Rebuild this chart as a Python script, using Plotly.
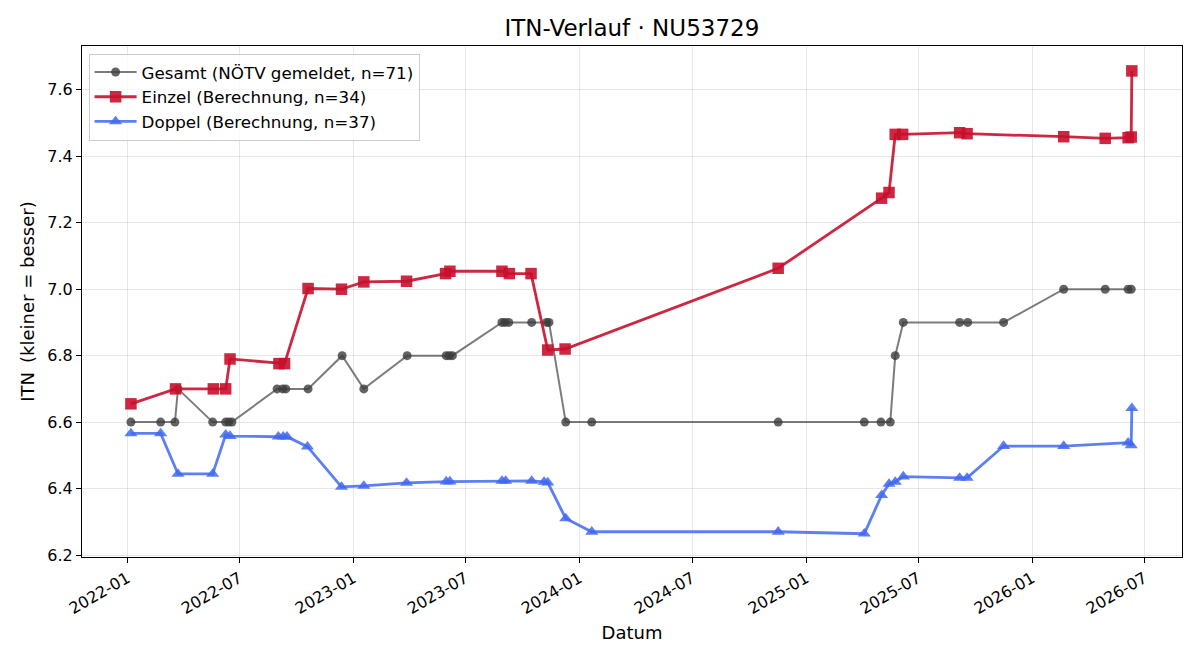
import plotly.graph_objects as go

# ---- Data ----
gesamt_dates = [
    "2022-01-07", "2022-02-24", "2022-03-19", "2022-03-24", "2022-05-19",
    "2022-06-09", "2022-06-14", "2022-06-19", "2022-08-31", "2022-09-09",
    "2022-09-14", "2022-10-20", "2022-12-14", "2023-01-18", "2023-03-29",
    "2023-05-31", "2023-06-05", "2023-06-10", "2023-08-29", "2023-09-03",
    "2023-09-09", "2023-10-16", "2023-11-09", "2023-11-13", "2023-12-10",
    "2024-01-21", "2024-11-17", "2025-04-05", "2025-05-02", "2025-05-17",
    "2025-05-25", "2025-06-07", "2025-09-06", "2025-09-19", "2025-11-16",
    "2026-02-21", "2026-04-29", "2026-06-05", "2026-06-10",
]
gesamt_vals = [
    6.6, 6.6, 6.6, 6.7, 6.6,
    6.6, 6.6, 6.6, 6.7, 6.7,
    6.7, 6.7, 6.8, 6.7, 6.8,
    6.8, 6.8, 6.8, 6.9, 6.9,
    6.9, 6.9, 6.9, 6.9, 6.6,
    6.6, 6.6, 6.6, 6.6, 6.6,
    6.8, 6.9, 6.9, 6.9, 6.9,
    7.0, 7.0, 7.0, 7.0,
]

einzel_dates = [
    "2022-01-07", "2022-03-20", "2022-05-20", "2022-06-09", "2022-06-16",
    "2022-09-03", "2022-09-12", "2022-10-20", "2022-12-13", "2023-01-18",
    "2023-03-28", "2023-05-30", "2023-06-06", "2023-08-29", "2023-09-10",
    "2023-10-15", "2023-11-11", "2023-12-09", "2024-11-17", "2025-05-03",
    "2025-05-15", "2025-05-25", "2025-06-06", "2025-09-06", "2025-09-18",
    "2026-02-21", "2026-04-29", "2026-06-05", "2026-06-10", "2026-06-11",
]
einzel_vals = [
    6.655, 6.700, 6.700, 6.700, 6.790,
    6.776, 6.776, 7.002, 7.000, 7.022,
    7.024, 7.047, 7.054, 7.054, 7.047,
    7.047, 6.817, 6.820, 7.063, 7.274,
    7.291, 7.466, 7.466, 7.471, 7.468,
    7.459, 7.454, 7.456, 7.458, 7.657,
]

doppel_dates = [
    "2022-01-07", "2022-02-24", "2022-03-24", "2022-05-19", "2022-06-09",
    "2022-06-16", "2022-09-02", "2022-09-10", "2022-09-16", "2022-10-19",
    "2022-12-13", "2023-01-18", "2023-03-28", "2023-05-31", "2023-06-06",
    "2023-08-29", "2023-09-04", "2023-10-16", "2023-11-05", "2023-11-11",
    "2023-12-10", "2024-01-21", "2024-11-17", "2025-04-05", "2025-05-03",
    "2025-05-15", "2025-05-25", "2025-06-07", "2025-09-06", "2025-09-18",
    "2025-11-16", "2026-02-21", "2026-06-05", "2026-06-10", "2026-06-11",
]
doppel_vals = [
    6.566, 6.566, 6.444, 6.444, 6.562,
    6.558, 6.556, 6.556, 6.556, 6.526,
    6.405, 6.408, 6.417, 6.421, 6.421,
    6.423, 6.423, 6.423, 6.420, 6.418,
    6.310, 6.270, 6.270, 6.264, 6.380,
    6.414, 6.420, 6.436, 6.432, 6.432,
    6.528, 6.528, 6.538, 6.530, 6.642,
]

x_ticks = ["2022-01-01", "2022-07-01", "2023-01-01", "2023-07-01", "2024-01-01",
           "2024-07-01", "2025-01-01", "2025-07-01", "2026-01-01", "2026-07-01"]
x_tick_labels = ["2022-01", "2022-07", "2023-01", "2023-07", "2024-01",
                 "2024-07", "2025-01", "2025-07", "2026-01", "2026-07"]
y_ticks = [6.2, 6.4, 6.6, 6.8, 7.0, 7.2, 7.4, 7.6]

FONT = "DejaVu Sans"

fig = go.Figure()
fig.add_trace(go.Scatter(
    x=gesamt_dates, y=gesamt_vals, mode="lines+markers",
    name="Gesamt (NÖTV gemeldet, n=71)",
    line=dict(color="rgba(68,68,68,0.7)", width=2),
    marker=dict(symbol="circle", size=9, color="#3c3c3c", opacity=0.8,
                line=dict(width=0)),
))
fig.add_trace(go.Scatter(
    x=einzel_dates, y=einzel_vals, mode="lines+markers",
    name="Einzel (Berechnung, n=34)",
    line=dict(color="rgba(200,16,46,0.9)", width=2.8),
    marker=dict(symbol="square", size=11.5, color="#c8102e", opacity=0.9,
                line=dict(width=0)),
))
fig.add_trace(go.Scatter(
    x=doppel_dates, y=doppel_vals, mode="lines+markers",
    name="Doppel (Berechnung, n=37)",
    line=dict(color="rgba(65,105,240,0.85)", width=2.8),
    marker=dict(symbol="triangle-up", size=11.5, color="#4169f0", opacity=0.85,
                line=dict(width=0)),
))

fig.update_layout(
    width=1200, height=660,
    margin=dict(l=82, r=18, t=46, b=103),
    paper_bgcolor="white", plot_bgcolor="white",
    font=dict(family=FONT, size=16, color="black"),
    title=dict(text="ITN-Verlauf · NU53729", x=0.5266, xanchor="center",
               y=0.957, yanchor="middle", font=dict(family=FONT, size=23)),
    showlegend=True,
    legend=dict(x=0.006, y=0.985, xanchor="left", yanchor="top",
                bgcolor="rgba(255,255,255,0.8)", bordercolor="#cccccc",
                borderwidth=1, font=dict(family=FONT, size=16.7),
                tracegroupgap=0, itemwidth=42),
    xaxis=dict(
        type="date", range=["2021-10-20", "2026-08-31"],
        tickvals=x_ticks, ticktext=x_tick_labels, tickangle=-30,
        ticks="outside", ticklen=5, tickcolor="black",
        showline=True, linecolor="black", linewidth=1, mirror=True,
        showgrid=True, gridcolor="rgba(176,176,176,0.3)", gridwidth=1,
        zeroline=False,
        title=dict(text="Datum", font=dict(family=FONT, size=18), standoff=9),
        tickfont=dict(family=FONT, size=16),
    ),
    yaxis=dict(
        range=[6.194, 7.732], tickvals=y_ticks, tickformat=".1f",
        ticks="outside", ticklen=5, tickcolor="black",
        showline=True, linecolor="black", linewidth=1, mirror=True,
        showgrid=True, gridcolor="rgba(176,176,176,0.3)", gridwidth=1,
        zeroline=False,
        title=dict(text="ITN\u2002(kleiner = besser)", font=dict(family=FONT, size=18),
                   standoff=8),
        tickfont=dict(family=FONT, size=16),
    ),
)

fig.write_html("out.html")
